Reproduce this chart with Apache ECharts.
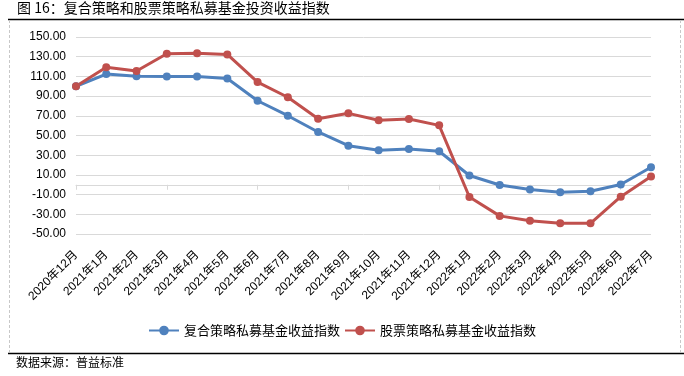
<!DOCTYPE html>
<html>
<head>
<meta charset="utf-8">
<script src="https://cdn.jsdelivr.net/npm/echarts@6/dist/echarts.min.js"></script>
<style>
html, body { margin: 0; padding: 0; background: #fff; }
#main { width: 684px; height: 376px; }
</style>
</head>
<body>
<div id="main"></div>
<script>
"use strict"

var titleText = "图 16：复合策略和股票策略私募基金投资收益指数";
var sourceText = "数据来源：普益标准";

var months = [
    "2020年12月", "2021年1月", "2021年2月", "2021年3月", "2021年4月",
    "2021年5月", "2021年6月", "2021年7月", "2021年8月", "2021年9月",
    "2021年10月", "2021年11月", "2021年12月", "2022年1月", "2022年2月",
    "2022年3月", "2022年4月", "2022年5月", "2022年6月", "2022年7月"
];
var seriesNames = ["复合策略私募基金收益指数", "股票策略私募基金收益指数"];
// 复合策略
var mixedIndex = [100, 112.4, 110.1, 110, 110, 107.8, 85.3, 70.1, 53.6, 39.7,
    35, 36.3, 34, 9.4, -0.2, -4.8, -7.6, -6.6, 0.3, 17.8];
// 股票策略
var stockIndex = [100, 119.2, 115.5, 133, 133.5, 132.3, 104.2, 88.8, 67, 72.5,
    65.4, 66.8, 60.3, -12.4, -31.6, -36.5, -39.2, -39.2, -12.1, 8.3];
var yMin = -50, yMax = 150, yStep = 20;

var colorList = ["#4f81bd", "#c0504d"];
var cjk = "'Liberation Sans', 'Noto Sans CJK SC', sans-serif";

var chart = echarts.init(document.getElementById("main"));

function lineSeries(name, data, color){
    return {
        name: name,
        type: "line",
        xAxisIndex: 0,
        data: data,
        symbol: "circle",
        symbolSize: 8,
        lineStyle: { color: color, width: 3 },
        itemStyle: { color: color },
        z: 3
    };
}

var option = {
    animation: false,
    color: colorList,
    grid: { left: 76, right: 33, top: 37, bottom: 142 },
    legend: {
        top: 319,
        left: "center",
        itemWidth: 30,
        itemHeight: 12,
        itemGap: 4,
        textStyle: { fontSize: 13, color: "#000", fontFamily: "'Noto Sans CJK SC', sans-serif" },
        data: seriesNames
    },
    xAxis: [
        {
            type: "category",
            boundaryGap: false,
            data: months,
            position: "bottom",
            axisLine: { show: false, onZero: false },
            axisTick: { show: false },
            axisLabel: {
                rotate: 45,
                margin: 19,
                fontSize: 12,
                color: "#000",
                fontFamily: cjk,
                interval: 0
            }
        },
        {
            type: "category",
            boundaryGap: false,
            data: months,
            position: "bottom",
            axisLine: { show: true, onZero: true, lineStyle: { color: "#d9d9d9", width: 1 } },
            axisTick: { show: true, length: 5, inside: false, lineStyle: { color: "#d9d9d9" } },
            axisLabel: { show: false }
        }
    ],
    yAxis: {
        type: "value",
        min: yMin,
        max: yMax,
        interval: yStep,
        axisLine: { show: false },
        axisTick: { show: false },
        splitLine: { lineStyle: { color: "#d9d9d9", width: 1 } },
        axisLabel: {
            margin: 10,
            fontSize: 12,
            color: "#000",
            fontFamily: cjk,
            formatter: function(v){ return v.toFixed(2); }
        }
    },
    graphic: [
        {
            type: "text", left: 17, top: 1,
            style: { text: titleText, fill: "#000", font: "14px 'Noto Sans CJK SC', sans-serif" }
        },
        {
            type: "line", shape: { x1: 8, y1: 19.5, x2: 684, y2: 19.5 },
            style: { stroke: "#000", lineWidth: 1.5 }
        },
        {
            type: "line", shape: { x1: 9.5, y1: 20, x2: 9.5, y2: 352 },
            style: { stroke: "#c8c8c8", lineWidth: 1, lineDash: [3, 2] }
        },
        {
            type: "line", shape: { x1: 680.5, y1: 20, x2: 680.5, y2: 352 },
            style: { stroke: "#c8c8c8", lineWidth: 1, lineDash: [3, 2] }
        },
        {
            type: "line", shape: { x1: 8, y1: 353.5, x2: 684, y2: 353.5 },
            style: { stroke: "#000", lineWidth: 1.5 }
        },
        {
            type: "text", left: 16, top: 356,
            style: { text: sourceText, fill: "#000", font: "12px 'Noto Sans CJK SC', sans-serif" }
        }
    ],
    series: [
        lineSeries(seriesNames[0], mixedIndex, colorList[0]),
        lineSeries(seriesNames[1], stockIndex, colorList[1])
    ]
};

chart.setOption(option);
</script>
</body>
</html>
